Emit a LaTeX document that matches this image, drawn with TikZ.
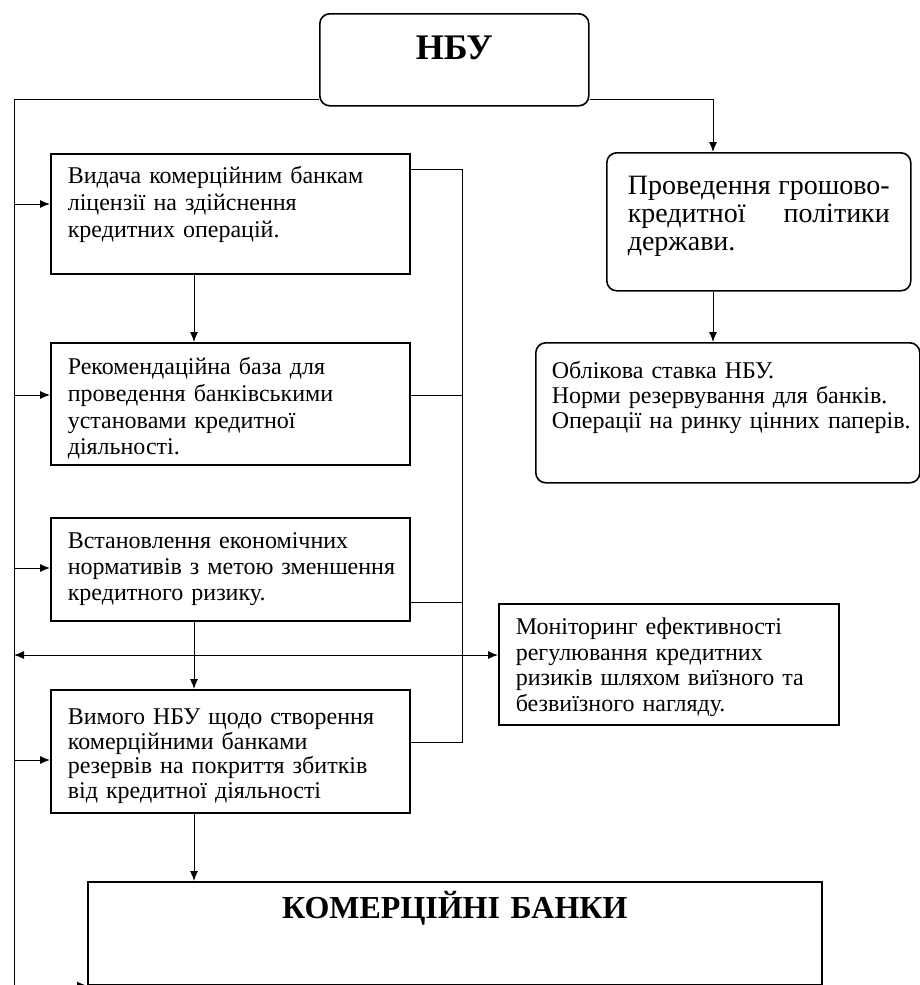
\documentclass[tikz,border=0pt]{standalone}
\usepackage{fontspec}
\setmainfont{Liberation Serif}
\usetikzlibrary{arrows.meta}

\tikzset{
  blok/.style={draw, line width=0.8pt, anchor=north west, inner xsep=8.5pt, inner ysep=0pt,
    align=left, font=\fontsize{12}{13.3}\selectfont},
  okrugl/.style={blok, rounded corners=5pt},
  strilka/.style={-{Latex[length=5pt,width=4pt]}},
  dvistrilka/.style={{Latex[length=5pt,width=4pt]}-{Latex[length=5pt,width=4pt]}},
}

\begin{document}
\begin{tikzpicture}[x=0.5pt, y=-0.5pt, line width=0.5pt] % 1 одиниця = 1 піксель
\useasboundingbox (0,0) rectangle (920,985);

% блоки
\node[okrugl, align=center, inner xsep=0pt, text width=134.5pt, text height=22.8pt, text depth=23.2pt,
  font=\fontsize{18}{19}\selectfont\bfseries] (nbu) at (319,13) {НБУ};
\node[okrugl, inner xsep=10.5pt, text width=131pt, text height=20.8pt, text depth=48.2pt,
  font=\fontsize{14}{14}\selectfont] (pol) at (606,152)
  {\makebox[131pt][l]{Проведення\hfill грошово-}\\\makebox[131pt][l]{кредитної\hfill політики}\\держави.};
\node[okrugl, inner xsep=8pt, text width=176pt, text height=18pt, text depth=52pt,
  font=\fontsize{12}{12.5}\selectfont] (oblik) at (535,342)
  {Облікова ставка НБУ.\\Норми резервування для банків.\\\mbox{Операції на ринку цінних паперів.}};

\node[blok, text width=162.5pt, text height=15pt, text depth=45pt] (vyd) at (50,153)
  {Видача комерційним банкам\\ліцензії на здійснення\\кредитних операцій.};
\node[blok, text width=162.5pt, text height=16pt, text depth=45pt] (rek) at (50,342)
  {Рекомендаційна база для\\проведення банківськими\\установами кредитної\\діяльності.};
\node[blok, text width=162.5pt, text height=15.5pt, text depth=36pt,
  font=\fontsize{12}{13}\selectfont] (vst) at (50,517)
  {Встановлення економічних\\\mbox{нормативів з метою зменшення}\\кредитного ризику.};
\node[blok, text width=162.5pt, text height=17.5pt, text depth=44pt,
  font=\fontsize{12}{12.2}\selectfont] (vym) at (50,689)
  {Вимого НБУ щодо створення\\комерційними банками\\резервів на покриття збитків\\від кредитної діяльності};
\node[blok, text width=153pt, text height=15.5pt, text depth=45pt,
  font=\fontsize{12}{12.7}\selectfont] (mon) at (498,603)
  {Моніторинг ефективності\\регулювання кредитних\\ризиків шляхом виїзного та\\безвиїзного нагляду.};
\node[blok, align=center, inner xsep=0pt, text width=367pt, text height=18.5pt, text depth=33pt,
  font=\fontsize{16}{18}\selectfont\bfseries] (bank) at (87,881) {КОМЕРЦІЙНІ БАНКИ};

% зв'язки
\coordinate (lv) at (14,99);
\coordinate (pv) at (713,99);
\coordinate (sv) at (194,0);
\coordinate (pr) at (462,0);

\draw[strilka] (nbu.south west |- lv) -- (lv) -- (lv |- bank.south west) -- (bank.south west);
\draw[strilka] (nbu.south east |- pv) -- (pv) -- (pol.north -| pv);
\draw[strilka] (pol.south -| pv) -- (oblik.north -| pv);

\foreach \b/\y in {vyd/204, rek/395, vst/568, vym/760}
  \draw[strilka] (14,\y) -- (\b.west |- 0,\y);

\draw[strilka] (vyd.south -| sv) -- (rek.north -| sv);
\draw[strilka] (vst.south -| sv) -- (vym.north -| sv);
\draw[strilka] (vym.south -| sv) -- (bank.north -| sv);

\draw[dvistrilka] (14,655) -- (mon.west |- 0,655);

\draw (vyd.east |- 0,169) -- (pr |- 0,169) -- (pr |- 0,742) -- (vym.east |- 0,742);
\draw (rek.east |- 0,395) -- (pr |- 0,395);
\draw (vst.east |- 0,602) -- (pr |- 0,602);

\end{tikzpicture}
\end{document}
